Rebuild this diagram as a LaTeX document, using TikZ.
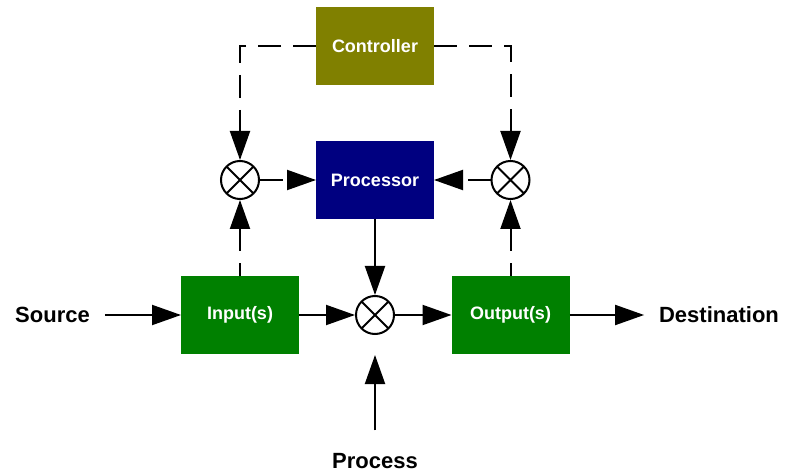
\documentclass[tikz,border=0pt]{standalone}
\usepackage{fontspec}
\setmainfont{Liberation Sans}
\usetikzlibrary{arrows.meta}
\definecolor{ctrlcol}{RGB}{128,128,0}
\definecolor{proccol}{RGB}{0,0,128}
\definecolor{iocol}{RGB}{0,128,0}

\begin{document}
\begin{tikzpicture}[x=1pt, y=-1pt, line width=2pt,
    >={Triangle[length=29pt,width=20pt]},
    block/.style={rectangle, minimum width=118pt, minimum height=78pt,
      inner sep=0pt, outer sep=0pt, text=white,
      font=\bfseries\fontsize{18}{20}\selectfont},
    mult/.style={circle, draw, minimum size=38pt, inner sep=0pt,
      path picture={\draw (path picture bounding box.north west) -- (path picture bounding box.south east)
        (path picture bounding box.north east) -- (path picture bounding box.south west);}},
    lbl/.style={inner sep=0pt, outer sep=15pt, font=\bfseries\fontsize{22}{24}\selectfont},
    sig/.style={dash pattern=on 23pt off 12pt}]
  \useasboundingbox (0,0) rectangle (785,473);

  % Blocks
  \node[block, fill=ctrlcol] (ctrl) at (375,46) {Controller};
  \node[block, fill=proccol] (proc) at (375,180) {Processor};
  \node[block, fill=iocol] (in) at (240,315) {Input(s)};
  \node[block, fill=iocol] (out) at (510.5,315) {Output(s)};

  % Multipliers
  \node[mult] (m1) at (240,180) {};
  \node[mult] (m2) at (510.5,180) {};
  \node[mult] (m3) at (375,315) {};

  % Labels
  \node[lbl] (src) at (52.5,315) {Source};
  \node[lbl] (dst) at (719,315) {Destination};
  \node[lbl, outer sep=23pt] (prc) at (375,461) {Process};

  % Main path
  \draw[->] (src) -- (in);
  \draw[->] (in) -- (m3);
  \draw[->] (m3) -- (out);
  \draw[->] (out) -- (dst);
  \draw[->] (proc) -- (m3);
  \draw[->, shorten >=20pt] (prc) -- (m3);

  % Control signals
  \draw[->, sig] (ctrl.west) -| (m1.north);
  \draw[->, sig] (ctrl.east) -| (m2.north);
  \draw[<-, sig] (m1.south) -- (in.north);
  \draw[<-, sig] (m2.south) -- (out.north);
  \draw[->, sig] (m1.east) -- (proc.west);
  \draw[->, sig] (m2.west) -- (proc.east);
\end{tikzpicture}
\end{document}
